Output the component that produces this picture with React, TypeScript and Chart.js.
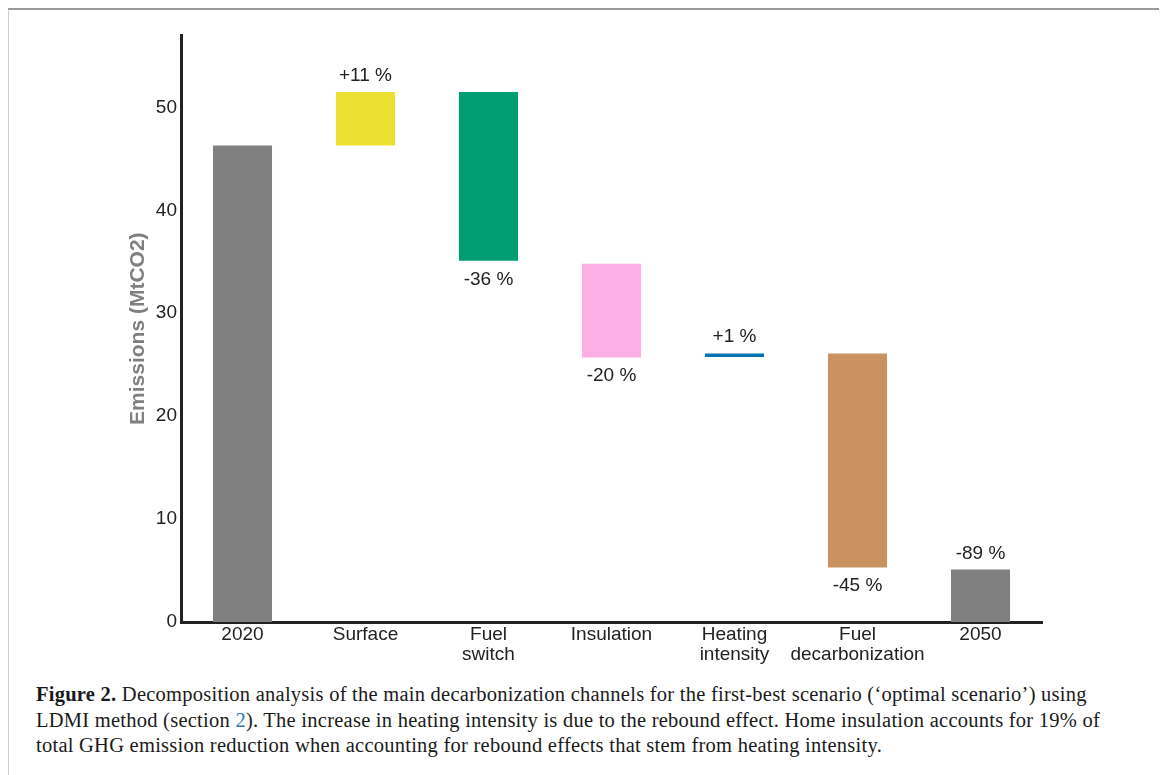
import React, { useEffect, useRef } from "react";
import { Chart, registerables } from "chart.js";

Chart.register(...registerables);

const categories: (string | string[])[] = [
  "2020",
  "Surface",
  ["Fuel", "switch"],
  "Insulation",
  ["Heating", "intensity"],
  ["Fuel", "decarbonization"],
  "2050",
];
const barStart = [0, 46.3, 35.1, 25.7, 25.75, 5.3, 0];
const barEnd = [46.3, 51.5, 51.5, 34.8, 26.1, 26.1, 5.1];
const barColors = ["#808080", "#ECE133", "#029E73", "#FBAFE4", "#0173B2", "#CA9161", "#808080"];
const changeLabels = ["", "+11 %", "-36 %", "-20 %", "+1 %", "-45 %", "-89 %"];
const labelSide = ["", "above", "below", "below", "above", "below", "above"];
const yTicks = [0, 10, 20, 30, 40, 50];

const FONT = "'Liberation Sans', Arial, sans-serif";

const annotatePlugin = {
  id: "changeLabels",
  afterDatasetsDraw(chart: any) {
    const { ctx, scales } = chart;
    const meta = chart.getDatasetMeta(0);
    ctx.save();
    ctx.font = `19px ${FONT}`;
    ctx.fillStyle = "#222222";
    ctx.textAlign = "center";
    meta.data.forEach((el: any, i: number) => {
      const txt = changeLabels[i];
      if (!txt) return;
      const x = el.x;
      if (labelSide[i] === "above") {
        ctx.textBaseline = "alphabetic";
        ctx.fillText(txt, x, scales.y.getPixelForValue(barEnd[i]) - 11);
      } else {
        ctx.textBaseline = "top";
        ctx.fillText(txt, x, scales.y.getPixelForValue(barStart[i]) + 9);
      }
    });
    ctx.restore();
  },
};

export default function App() {
  const ref = useRef<HTMLCanvasElement | null>(null);

  useEffect(() => {
    if (!ref.current) return;
    const chart = new Chart(ref.current, {
      type: "bar",
      data: {
        labels: categories as any,
        datasets: [
          {
            data: barStart.map((s, i) => [s, barEnd[i]]) as any,
            backgroundColor: barColors,
            borderWidth: 0,
            barPercentage: 0.48,
            categoryPercentage: 1,
          },
        ],
      },
      options: {
        responsive: false,
        animation: false,
        layout: { padding: { top: 15, right: 18, left: 0, bottom: 0 } },
        plugins: {
          legend: { display: false },
          tooltip: { enabled: false },
        },
        scales: {
          x: {
            grid: { display: false, drawTicks: false },
            border: { display: true, color: "#222222", width: 3 },
            ticks: {
              color: "#222222",
              font: { family: FONT, size: 19, lineHeight: 1.05 },
              padding: 3,
              maxRotation: 0,
              autoSkip: false,
            },
            afterFit(scale: any) {
              scale.height = 58;
            },
          },
          y: {
            min: 0,
            max: 57,
            grid: { display: false, drawTicks: false },
            border: { display: true, color: "#222222", width: 3 },
            ticks: {
              color: "#222222",
              font: { family: FONT, size: 19 },
              padding: 4,
              stepSize: 10,
              includeBounds: false,
            },
            afterBuildTicks(scale: any) {
              scale.ticks = yTicks.map((v) => ({ value: v }));
            },
            title: {
              display: true,
              text: "Emissions (MtCO2)",
              color: "#7f7f7f",
              font: { family: FONT, size: 21, weight: "bold" },
              padding: { top: 6, bottom: 0 },
            },
            afterFit(scale: any) {
              scale.width = 61;
            },
          },
        },
      },
      plugins: [annotatePlugin],
    });
    return () => chart.destroy();
  }, []);

  return (
    <div style={{ position: "relative", width: 1151, height: 767 }}>
      <div
        style={{
          position: "absolute",
          left: -1,
          top: 0,
          width: 1155,
          height: 790,
          borderTop: "2px solid #9a9a9a",
          borderLeft: "2px solid #cfcfcf",
          borderRight: "2px solid #cfcfcf",
          boxSizing: "border-box",
        }}
      />
      <canvas
        ref={ref}
        width={940}
        height={660}
        style={{ position: "absolute", left: 112, top: 12, width: 940, height: 660 }}
      />
      <div
        style={{
          position: "absolute",
          left: 28,
          top: 674,
          width: 1120,
          fontFamily: "'Liberation Serif', 'Times New Roman', serif",
          fontSize: 20.5,
          letterSpacing: "0.25px",
          lineHeight: "25.5px",
          color: "#1a1a1a",
          whiteSpace: "nowrap",
        }}
      >
        <b>Figure 2.</b> Decomposition analysis of the main decarbonization channels for the first-best scenario (‘optimal scenario’) using
        <br />
        LDMI method (section <span style={{ color: "#2a7ab8" }}>2</span>). The increase in heating intensity is due to the rebound effect. Home insulation accounts for 19% of
        <br />
        total GHG emission reduction when accounting for rebound effects that stem from heating intensity.
      </div>
    </div>
  );
}
